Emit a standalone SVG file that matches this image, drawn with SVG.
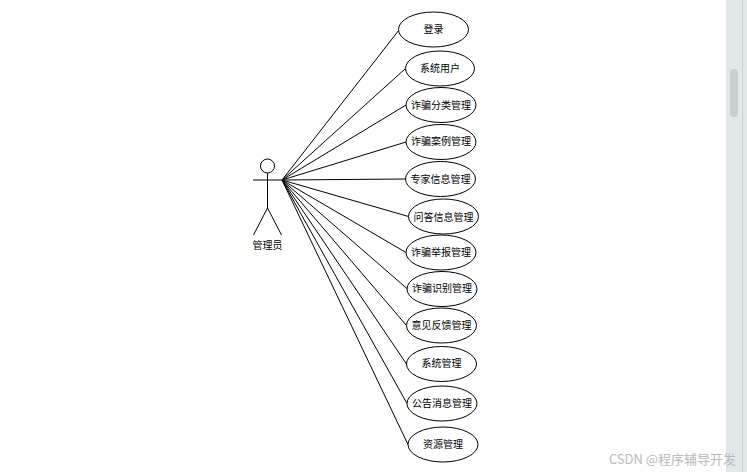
<svg xmlns="http://www.w3.org/2000/svg" width="747" height="472" viewBox="0 0 747 472">
<style>
.l{stroke:#000;stroke-width:1;fill:none}
.u ellipse{fill:#fff;stroke:#000;stroke-width:1}
text{font-family:"Noto Sans CJK SC","Liberation Sans",sans-serif;font-size:10px;fill:#000;text-anchor:middle}
</style>
<rect width="747" height="472" fill="#fff"/>
<g id="connectors" class="l">
<line x1="282" y1="180" x2="399" y2="30"/>
<line x1="282" y1="180" x2="405.500" y2="68.500"/>
<line x1="282" y1="180" x2="406" y2="105"/>
<line x1="282" y1="180" x2="406" y2="142"/>
<line x1="282" y1="180" x2="405.500" y2="179"/>
<line x1="282" y1="180" x2="408.500" y2="216.500"/>
<line x1="282" y1="180" x2="406" y2="252.500"/>
<line x1="282" y1="180" x2="407.500" y2="289"/>
<line x1="282" y1="180" x2="406.500" y2="325.500"/>
<line x1="282" y1="180" x2="406.500" y2="364"/>
<line x1="282" y1="180" x2="407" y2="403.500"/>
<line x1="282" y1="180" x2="408" y2="444.500"/>
</g>
<g id="actor" class="l">
<circle cx="267.500" cy="166" r="7"/>
<line x1="267.500" y1="173" x2="267.500" y2="208"/>
<line x1="253" y1="180" x2="282" y2="180"/>
<line x1="267.500" y1="208" x2="253.500" y2="235"/>
<line x1="267.500" y1="208" x2="281.500" y2="235"/>
</g>
<text id="actor-label" x="267.500" y="249">管理员</text>
<g id="u1" class="u"><ellipse cx="433.500" cy="29.500" rx="35" ry="17.500"/><text x="433.500" y="33">登录</text></g>
<g id="u2" class="u"><ellipse cx="440" cy="68.500" rx="34.500" ry="17.500"/><text x="440" y="72">系统用户</text></g>
<g id="u3" class="u"><ellipse cx="441" cy="105" rx="35" ry="17.500"/><text x="441" y="109">诈骗分类管理</text></g>
<g id="u4" class="u"><ellipse cx="441" cy="142" rx="35" ry="17.500"/><text x="441" y="145">诈骗案例管理</text></g>
<g id="u5" class="u"><ellipse cx="440.500" cy="179" rx="35" ry="17.500"/><text x="440.500" y="183">专家信息管理</text></g>
<g id="u6" class="u"><ellipse cx="443.500" cy="216.500" rx="35" ry="17.500"/><text x="443.500" y="221">问答信息管理</text></g>
<g id="u7" class="u"><ellipse cx="441" cy="252.500" rx="35" ry="17.500"/><text x="441" y="256">诈骗举报管理</text></g>
<g id="u8" class="u"><ellipse cx="442" cy="289" rx="35" ry="17.500"/><text x="442" y="292">诈骗识别管理</text></g>
<g id="u9" class="u"><ellipse cx="441.500" cy="325.500" rx="35" ry="17.500"/><text x="441.500" y="329">意见反馈管理</text></g>
<g id="u10" class="u"><ellipse cx="441.500" cy="364" rx="35" ry="17.500"/><text x="441.500" y="367">系统管理</text></g>
<g id="u11" class="u"><ellipse cx="442" cy="403.500" rx="35" ry="17.500"/><text x="442" y="407">公告消息管理</text></g>
<g id="u12" class="u"><ellipse cx="443" cy="444.500" rx="35" ry="17.500"/><text x="443" y="448">资源管理</text></g>
<rect x="726" y="0" width="21" height="472" fill="#e1e8ea"/>
<rect x="742" y="0" width="1" height="472" fill="#c9d0d3"/>
<rect x="730" y="69" width="8" height="48" rx="4" fill="#c9ced1"/>
<text x="672.500" y="464" style="font-size:13px;fill:#b9b9b9">CSDN @程序辅导开发</text>
</svg>
